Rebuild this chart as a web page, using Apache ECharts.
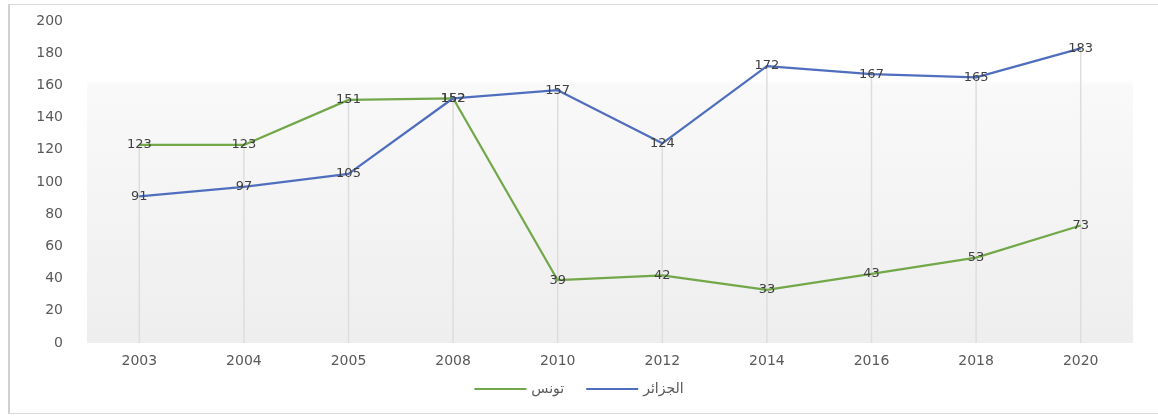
<!DOCTYPE html>
<html>
<head>
<meta charset="utf-8">
<script src="https://cdn.jsdelivr.net/npm/echarts@6/dist/echarts.min.js"></script>
<style>
  html, body { margin: 0; padding: 0; background: #fff; }
  #chart { width: 1158px; height: 416px; }
  .frame {
    position: absolute; left: 8px; top: 4px; width: 1160px; height: 408px;
    border: 1px solid #d9d9d9; border-left: 2px solid #d0d0d0; pointer-events: none;
  }
</style>
</head>
<body>
<div id="chart"></div>
<div class="frame"></div>
<script>
  const years = ['2003', '2004', '2005', '2008', '2010', '2012', '2014', '2016', '2018', '2020'];
  const tunisia = [123, 123, 151, 152, 39, 42, 33, 43, 53, 73];
  const algeria = [91, 97, 105, 152, 157, 124, 172, 167, 165, 183];
  const names = ['تونس', 'الجزائر'];

  // drop lines go from the axis up to the higher of the two series
  const dropTops = years.map((y, i) => Math.max(tunisia[i], algeria[i]));

  const chart = echarts.init(document.getElementById('chart'));

  const labelStyle = {
    show: true,
    position: 'inside',
    color: '#404040',
    fontFamily: 'DejaVu Sans',
    fontSize: 13
  };

  const option = {
    animation: false,
    textStyle: { fontFamily: 'DejaVu Sans' },
    grid: {
      left: 87, right: 25, top: 21, bottom: 73,
      show: true,
      borderWidth: 0,
      backgroundColor: {
        type: 'linear', x: 0, y: 0, x2: 0, y2: 1,
        colorStops: [
          { offset: 0, color: '#ffffff' },
          { offset: 0.18, color: '#ffffff' },
          { offset: 0.2, color: '#f9f9f9' },
          { offset: 1, color: '#eeeeee' }
        ]
      }
    },
    legend: {
      bottom: 15,
      left: 'center',
      icon: 'rect',
      itemWidth: 52,
      itemHeight: 2,
      itemGap: 22,
      data: names,
      textStyle: { color: '#595959', fontSize: 14, fontFamily: 'DejaVu Sans' }
    },
    xAxis: {
      type: 'category',
      data: years,
      boundaryGap: true,
      axisLine: { show: false },
      axisTick: { show: false },
      splitLine: { show: false },
      axisLabel: { color: '#595959', fontSize: 14, margin: 11 }
    },
    yAxis: {
      type: 'value',
      min: 0, max: 200, interval: 20,
      axisLine: { show: false },
      axisTick: { show: false },
      splitLine: { show: false },
      axisLabel: { color: '#595959', fontSize: 14, margin: 24 }
    },
    series: [
      {
        name: 'drop',
        type: 'bar',
        data: dropTops,
        barWidth: 1.5,
        itemStyle: { color: '#dddddd' },
        z: 1,
        silent: true
      },
      {
        name: names[0],
        type: 'line',
        data: tunisia,
        symbol: 'circle',
        symbolSize: 1,
        itemStyle: { color: '#72a84a' },
        lineStyle: { color: '#72a84a', width: 2.25 },
        label: labelStyle,
        z: 3
      },
      {
        name: names[1],
        type: 'line',
        data: algeria,
        symbol: 'circle',
        symbolSize: 1,
        itemStyle: { color: '#4f6fbe' },
        lineStyle: { color: '#4f6fbe', width: 2.25 },
        label: labelStyle,
        z: 3
      }
    ]
  };

  chart.setOption(option);
  window.addEventListener('resize', function () {
    chart.resize();
  });
</script>
</body>
</html>
